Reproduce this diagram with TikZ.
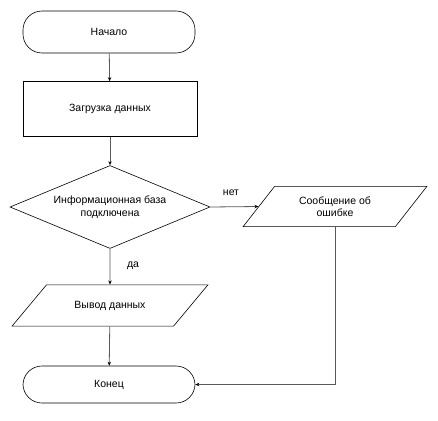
\documentclass[tikz,border=0pt]{standalone}
\usepackage{fontspec}
\setmainfont{Liberation Sans}
\usetikzlibrary{shapes.geometric, arrows.meta}
\tikzset{
  >={Stealth[length=4pt, width=3.4pt, color=black]},
  wire/.style={line width=0.8pt, draw=black!65},
  term/.style={rectangle, draw, line width=0.6pt, rounded corners=19pt,
    minimum width=172pt, align=center, inner sep=0pt},
  procbox/.style={rectangle, draw, line width=0.6pt, minimum width=174pt,
    minimum height=55pt, align=center, inner sep=0pt},
  decide/.style={diamond, draw, line width=0.6pt, aspect=2.4, minimum width=200pt,
    minimum height=83pt, align=center, inner sep=0pt},
  iobox/.style={trapezium, draw, line width=0.6pt, trapezium left angle=65,
    trapezium right angle=115, trapezium stretches=true, inner xsep=0pt,
    align=center},
  lbl/.style={inner sep=0pt},
}
\begin{document}
\begin{tikzpicture}[x=1pt, y=-1pt, font=\fontsize{10.5}{12.5}\selectfont]

  \useasboundingbox (0,0) rectangle (438,420);

  % ----- blocks -------------------------------------------------------------
  \node[term, minimum height=42pt] (start) at (109,32)    {Начало};
  \node[procbox]                   (load)  at (110,109)   {Загрузка данных};
  \node[decide]                    (cond)  at (110,207)   {Информационная база\\подключена};
  \node[iobox, minimum width=184pt, inner ysep=10pt] (err) at (335,206.5) {Сообщение об\\ошибке};
  \node[iobox, minimum width=196pt, inner ysep=16pt] (out) at (110,305.5) {Вывод данных};
  \node[term, minimum height=37pt] (stop)  at (109,384.5) {Конец};

  % ----- labels -------------------------------------------------------------
  \node[lbl] (no)  at (231,193) {нет};
  \node[lbl] (yes) at (133,266) {да};

  % ----- connectors ---------------------------------------------------------
  \draw[wire,->] (start) -- (load);
  \draw[wire,->] (load) -- (cond);
  \draw[wire,->] (cond.east) -- (err.west);
  \draw[wire,->] (cond.south) -- (out.north);
  \draw[wire,->] (out) -- (stop);
  \draw[wire,->] (err.south) |- (stop.east);

\end{tikzpicture}
\end{document}
